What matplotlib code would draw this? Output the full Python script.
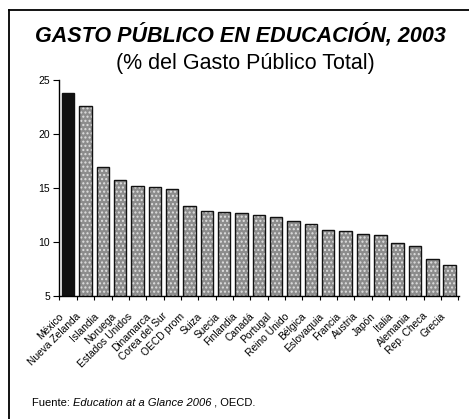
import matplotlib
matplotlib.use("Agg")
import matplotlib.pyplot as plt
import matplotlib.transforms as mtransforms
import numpy as np

plt.rcParams['font.family'] = ['Liberation Sans', 'DejaVu Sans']

# datos (% del gasto público total, 2003)
paises = ["México", "Nueva Zelanda", "Islandia", "Noruega", "Estados Unidos",
          "Dinamarca", "Corea del Sur", "OECD prom", "Suiza", "Suecia",
          "Finlandia", "Canadá", "Portugal", "Reino Unido", "Bélgica",
          "Eslovaquia", "Francia", "Austria", "Japón", "Italia",
          "Alemania", "Rep. Checa", "Grecia"]
gasto = [23.8, 22.6, 16.9, 15.7, 15.2, 15.1, 14.9, 13.3, 12.9, 12.8,
         12.7, 12.5, 12.3, 11.9, 11.7, 11.1, 11.0, 10.7, 10.6, 9.9,
         9.6, 8.4, 7.9]
yticks = [5, 10, 15, 20, 25]

fig = plt.figure(figsize=(4.69, 4.19), dpi=100)
ax = fig.add_axes([0.125, 0.294, 0.854, 0.515])

x = np.arange(len(paises))
base = 5
alturas = [v - base for v in gasto]

# México en negro, el resto con relleno punteado
ax.bar(x[:1], alturas[:1], bottom=base, width=0.72, color="#111111",
       edgecolor="#111111", linewidth=1.0)
ax.bar(x[1:], alturas[1:], bottom=base, width=0.72, color="#8c8c8c",
       edgecolor="#e0e0e0", hatch="....", linewidth=0)
ax.bar(x[1:], alturas[1:], bottom=base, width=0.72, facecolor="none",
       edgecolor="#111111", linewidth=1.0)

ax.set_xlim(-0.55, len(paises) - 0.45)
ax.set_ylim(5, 25)
ax.set_yticks(yticks)
ax.tick_params(axis="y", labelsize=7.5, length=4, width=0.8, pad=2)

ax.set_xticks(x)
ax.set_xticklabels(paises, rotation=45, ha="right", va="top",
                   rotation_mode="anchor", fontsize=7.4)
ax.tick_params(axis="x", which="major", length=0, pad=11)
ax.set_xticks(np.arange(len(paises) + 1) - 0.5, minor=True)
ax.tick_params(axis="x", which="minor", length=3, width=0.8)
desplaza = mtransforms.ScaledTranslation(-7 / 72, 0, fig.dpi_scale_trans)
for lab in ax.get_xticklabels():
    lab.set_transform(lab.get_transform() + desplaza)

for s in ["top", "right"]:
    ax.spines[s].set_visible(False)
ax.spines["left"].set_linewidth(1.0)
ax.spines["bottom"].set_linewidth(1.0)

fig.text(0.512, 0.918, "GASTO PÚBLICO EN EDUCACIÓN, 2003", ha="center",
         va="center", fontsize=15.5, fontweight="bold", fontstyle="italic")
fig.text(0.524, 0.849, "(% del Gasto Público Total)", ha="center",
         va="center", fontsize=15.5)

t1 = fig.text(0.068, 0.032, "Fuente: ", fontsize=8, va="baseline")
t2 = ax.annotate("Education at a Glance 2006", xy=(1, 0), xycoords=t1,
                 fontsize=8, fontstyle="italic", va="bottom",
                 annotation_clip=False)
ax.annotate(" , OECD.", xy=(1, 0), xycoords=t2, fontsize=8, va="bottom",
            annotation_clip=False)

# marco
fig.add_artist(plt.Line2D([0.019, 0.019], [0.0, 0.976], color="black",
                          linewidth=1.3, transform=fig.transFigure))
fig.add_artist(plt.Line2D([0.019, 1.0], [0.976, 0.976], color="black",
                          linewidth=1.3, transform=fig.transFigure))

fig.savefig("out.png", dpi=100)
